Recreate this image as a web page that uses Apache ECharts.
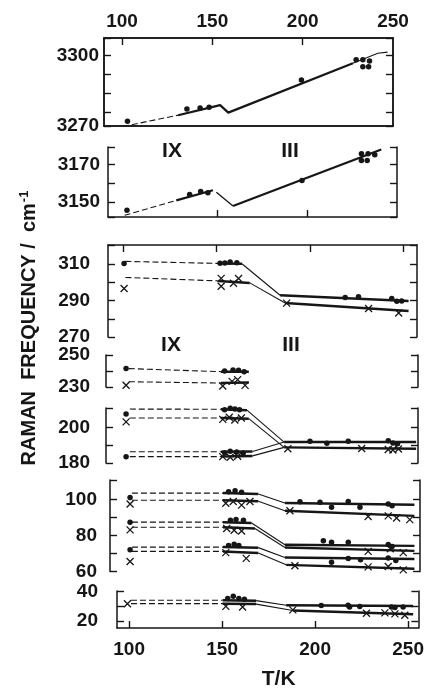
<!DOCTYPE html>
<html>
<head>
<meta charset="utf-8">
<title>Raman frequency vs T</title>
<script src="https://cdn.jsdelivr.net/npm/echarts@6/dist/echarts.min.js"></script>
<style>
    html, body { margin: 0; padding: 0; background: #fff; }
    #chart { width: 427px; height: 691px; }
</style>
</head>
<body>
<div id="chart"></div>
<script>
// T in K, frequency in cm-1. Lower panels: each "mode" is a list of knots
// [start, IX start, IX end, III start, III end] -> dashed, thick, thin, thick

// ---- top block: 3270-3300 and 3150-3170 bands
const p1Dash = [[100.5, 3269.8], [131, 3274.6]];
const p1Solid = [[131, 3274.6], [154.3, 3278.9], [158.8, 3275.7], [227.8, 3296.7]];
const p1Tail = [[227.8, 3296.7], [241.6, 3301], [247, 3301.5]];
const p1Dots = [[103, 3272], [135.9, 3277.2], [143.2, 3277.7], [148.2, 3278], [199.3, 3289.6],
    [229.6, 3298.2], [233.3, 3298.2], [237, 3297.7], [233.3, 3295.3], [236.5, 3295.3]];

const p2Dash = [[98.7, 3142.9], [127.3, 3150.9]];
const p2Solid = [[127.3, 3150.9], [147.6, 3156.3]];
const p2Drop = [[149.5, 3155.3], [158.7, 3147.9]];
const p2Rise = [[158.7, 3147.9], [240.8, 3178.2]];
const p2Dots = [[100, 3145.6], [134.7, 3154], [140.8, 3155.7], [144.8, 3155], [196.9, 3161.6],
    [229.8, 3175.9], [233.5, 3175.9], [237.2, 3175.3], [229.8, 3172.3], [233, 3172.3]];

// ---- 270-310
const p3ModeA = [[101.3, 311.5], [151, 310.4], [163.6, 310.2], [184, 292.9], [252.7, 289.8]];
const p3DotsA = [[100.6, 310.4], [151.9, 310.5], [154.5, 310.6], [157.3, 311.2], [160.9, 310.8],
    [218.8, 291.7], [225.9, 292.1], [243.7, 291.1], [246.4, 289.6], [249, 289.8]];
const p3ModeB = [[101.3, 302.7], [151, 300.8], [167.8, 299.7], [186.7, 288.7], [252.7, 284.3]];
const p3CrossB = [[100.6, 296.6], [152.5, 297.9], [152.5, 302.2], [159.1, 299.5], [161.8, 302.1],
    [187.5, 288.6], [231.3, 285.6], [247.4, 283.2]];

// ---- 230-250 (phase IX only)
const p4ModeA = [[101.5, 241.5], [151, 239.6], [166, 239.5]];
const p4DotsA = [[100, 241.6], [153, 240], [157.5, 240.6], [160.5, 240.4], [163.5, 239.6]];
const p4ModeB = [[101.5, 233.3], [151, 232.5], [166, 232.8]];
const p4CrossB = [[100, 231.1], [152, 230.6], [157, 233.5], [160, 234.6], [164, 231]];

// ---- 180-210
const p5ModeA = [[102, 210.4], [151, 210.3], [165, 209.8], [185, 191.8], [256, 191.8]];
const p5DotsA = [[100, 207.6], [153, 210], [156, 210.9], [158.5, 210.5], [161, 210], [198.9, 192.3],
    [208, 191.2], [219.5, 192.3], [241, 192.5], [243.5, 191.3], [246, 190.8]];
const p5ModeB = [[102, 205.4], [151, 205.4], [166, 205], [185, 188.8], [256, 188]];
const p5CrossB = [[100, 203.2], [152, 204.6], [155.5, 205.8], [158.5, 204.2], [162, 205.4], [187, 188],
    [226.7, 188.2], [241, 187.6], [243.5, 187.3], [246.5, 187.9]];
const p5ModeC = [[102, 183.6], [151, 183.6], [168, 184], [185, 188.8]];
const p5DotsC = [[100, 183.5], [153, 185.8], [156, 186.6], [159.5, 186.2], [163, 185.6]];
const p5ModeD = [[102, 186.3], [151, 186.3], [168, 186.5], [185, 191.8]];
const p5CrossD = [[152, 183.6], [156, 183.2], [160, 183.8]];

// ---- 60-100
const p6ModeA = [[101, 103.7], [150, 103.7], [169, 103.2], [183.3, 98.2], [253, 97.2]];
const p6DotsA = [[100, 101.3], [153, 104.5], [156.5, 105], [160, 104.2], [191.4, 98.9], [202.2, 98.6],
    [208.4, 95.8], [217.4, 99], [223.7, 95.8], [238.9, 97.6], [241, 96.6]];
const p6ModeB = [[101, 99.7], [150, 99.7], [169, 99.2], [183.3, 93.9], [253, 91]];
const p6CrossB = [[100, 97.6], [151.5, 98], [155.5, 99], [160, 97], [164.5, 99], [186, 93.9],
    [228.1, 90.7], [238.9, 91], [243.4, 89.8], [250.5, 88.9]];
const p6ModeC = [[101, 87.5], [150, 87.5], [165.4, 87], [183.3, 74.9], [253, 74.3]];
const p6DotsC = [[100, 87.5], [154, 88.5], [157, 89], [161, 88.5], [204, 77.1], [208.4, 76.3],
    [217.4, 76.3], [238.9, 75], [241, 74]];
const p6ModeD = [[101, 84.7], [150, 84.7], [167.2, 84], [183.3, 73.4], [253, 71.5]];
const p6CrossD = [[100, 83.2], [152, 84], [156, 83], [160, 82.6], [228.1, 71.2], [240, 72.7], [247, 70.5]];
const p6ModeE = [[101, 73.6], [150, 73.6], [169, 73.3], [183.3, 67.8], [253, 67]];
const p6DotsE = [[100, 72.1], [153, 74.5], [156, 75.2], [158.5, 74.5], [208.4, 65.2], [217.4, 67.2],
    [224, 66.5], [238.9, 67.5], [243, 66.2]];
const p6ModeF = [[101, 71.2], [150, 71.2], [169, 70.3], [184, 63.7], [253, 61.5]];
const p6CrossF = [[100, 65.6], [151.5, 70.5], [162.5, 67.3], [188.7, 63.2], [228.1, 62.6], [238.9, 62.8], [247, 60.9]];

// ---- 20-40
const p7ModeA = [[101, 34.3], [150.3, 34.3], [168.3, 34], [184.4, 30.8], [252.7, 30.3]];
const p7DotsA = [[153, 35.5], [156, 37], [159, 35.5], [162, 35], [203.3, 30.6], [217.7, 30.8],
    [218.5, 29.5], [224, 30], [241, 29.5], [242.9, 29.2], [247.3, 29.5]];
const p7ModeB = [[101, 31.9], [150.3, 31.9], [168.3, 31.6], [188, 27.2], [252.7, 24.5]];
const p7CrossB = [[99.1, 31.9], [152, 30], [161, 29.6], [188, 27.6], [227.6, 25.3], [237.5, 25.5],
    [242.9, 24.8], [248.2, 23.8]];

// ---- tick labels
const tempTicks = [100, 150, 200, 250];
const p1Ticks = [3270, 3276, 3284, 3292, 3300, 3307.5];
const p1Labels = [3270, 3300];
const p2Ticks = [3142, 3150, 3160, 3170, 3179.5];
const p2Labels = [3150, 3170];
const p3Ticks = [270, 280, 290, 300, 310, 320.5];
const p3Labels = [270, 290, 310];
const p4Ticks = [230, 240, 250];
const p4Labels = [230, 250];
const p5Ticks = [180, 190, 200, 211];
const p5Labels = [180, 200];
const p6Ticks = [60, 70, 80, 90, 100, 111];
const p6Labels = [60, 80, 100];
const p7Ticks = [20, 30, 40.7];
const p7Labels = [20, 40];

const INK = '#161616';
const FONT = '"Liberation Sans", Arial, sans-serif';

// layout of the seven stacked panels
const panels = [
    { top: 38, bottom: 126, left: 104, right: 393, x: [90, 250], y: [3270, 3307.5], yTicks: p1Ticks, yLabels: p1Labels, gap: 5,
      xTop: { ticks: tempTicks.slice(0, 3), labels: tempTicks }, xBottom: { ticks: [], labels: [] } },
    { top: 147, bottom: 217, left: 108, right: 397, x: [89.5, 249.5], y: [3142, 3179.5], yTicks: p2Ticks, yLabels: p2Labels, gap: 8,
      xBottom: { ticks: [150, 200], labels: [] } },
    { top: 245, bottom: 337, left: 108, right: 417, x: [92, 257.2], y: [270, 320.5], yTicks: p3Ticks, yLabels: p3Labels, gap: 18,
      xTop: { ticks: tempTicks, labels: [] } },
    { top: 355, bottom: 387, left: 106, right: 418, x: [89.2, 257], y: [230, 250], yTicks: p4Ticks, yLabels: p4Labels, gap: 16 },
    { top: 408, bottom: 463, left: 106, right: 418, x: [89.2, 257], y: [180, 211], yTicks: p5Ticks, yLabels: p5Labels, gap: 16 },
    { top: 480, bottom: 571.5, left: 110, right: 420, x: [89.2, 256], y: [60, 111], yTicks: p6Ticks, yLabels: p6Labels, gap: 13 },
    { top: 591, bottom: 636, left: 117, right: 421, x: [93.5, 255.5], y: [15, 40.7], yTicks: p7Ticks, yLabels: p7Labels, gap: 19,
      xBottom: { ticks: tempTicks, labels: tempTicks, name: 'T/K' } }
];

const labelStyle = { color: INK, fontFamily: FONT, fontSize: 19, fontWeight: 'bold' };
const plain = v => String(v);

let grids = [], xAxes = [], yAxes = [], series = [], panelX = [];

panels.forEach((p, i) => {
    grids.push({ left: p.left, top: p.top, width: p.right - p.left, height: p.bottom - p.top });

    panelX.push(xAxes.length);
    let sides = [];
    if (p.xTop) sides.push(['top', p.xTop]);
    if (p.xBottom) sides.push(['bottom', p.xBottom]);
    if (!sides.length) sides.push(['bottom', null]);

    sides.forEach(([pos, s]) => {
        xAxes.push({
            type: 'value', gridIndex: i, position: pos, min: p.x[0], max: p.x[1],
            axisLine: { show: !!s, onZero: false, lineStyle: { color: INK, width: 1.5 } },
            axisTick: { show: !!s && s.ticks.length > 0, inside: true, length: 7,
                customValues: s ? s.ticks : [], lineStyle: { color: INK, width: 1.4 } },
            axisLabel: { show: !!s && s.labels.length > 0, customValues: s ? s.labels : [],
                margin: pos === 'top' ? 7 : 12, formatter: plain, ...labelStyle },
            splitLine: { show: false },
            name: s && s.name ? s.name : '',
            nameLocation: 'middle', nameGap: 41,
            nameTextStyle: { ...labelStyle, fontSize: 21, padding: [0, 0, 0, 22] }
        });
    });

    ['left', 'right'].forEach(pos => {
        yAxes.push({
            type: 'value', gridIndex: i, position: pos, min: p.y[0], max: p.y[1],
            axisLine: { show: true, onZero: false, lineStyle: { color: INK, width: 1.5 } },
            axisTick: { show: true, inside: true, length: 7, customValues: p.yTicks,
                lineStyle: { color: INK, width: 1.4 } },
            axisLabel: { show: pos === 'left', customValues: p.yLabels, margin: p.gap, formatter: plain, ...labelStyle },
            splitLine: { show: false }
        });
    });
});

// box around the first panel
grids[0].show = true;
grids[0].borderColor = INK;
grids[0].borderWidth = 1.5;

function addLine(pi, data, width, dashed) {
    series.push({
        type: 'line', xAxisIndex: panelX[pi], yAxisIndex: 2 * pi, data: data,
        showSymbol: false, silent: true,
        lineStyle: { color: INK, width: width, type: dashed ? [6, 3] : 'solid' }
    });
}

function addMode(pi, knots) {
    let styles = [[1.1, true], [2.5, false], [1.1, false], [2.4, false]];
    for (let k = 0; k + 1 < knots.length; k++) {
        addLine(pi, knots.slice(k, k + 2), styles[k][0], styles[k][1]);
    }
}

function addDots(pi, data) {
    series.push({
        type: 'scatter', xAxisIndex: panelX[pi], yAxisIndex: 2 * pi, data: data,
        symbol: 'circle', symbolSize: 5.5, itemStyle: { color: INK, opacity: 1 }
    });
}

function addCross(pi, data) {
    series.push({
        type: 'scatter', xAxisIndex: panelX[pi], yAxisIndex: 2 * pi, data: data,
        symbol: 'path://M0,0L10,10M10,0L0,10', symbolSize: 7,
        itemStyle: { color: 'none', borderColor: INK, borderWidth: 1.3, opacity: 1 }
    });
}

// panel 1, 2
addLine(0, p1Dash, 1.1, true);
addLine(0, p1Solid, 2.2, false);
addLine(0, p1Tail, 1.1, false);
addDots(0, p1Dots);
addLine(1, p2Dash, 1.1, true);
addLine(1, p2Solid, 2.2, false);
addLine(1, p2Drop, 1.3, false);
addLine(1, p2Rise, 2.2, false);
addDots(1, p2Dots);

// lower panels
addMode(2, p3ModeA); addDots(2, p3DotsA);
addMode(2, p3ModeB); addCross(2, p3CrossB);
addMode(3, p4ModeA); addDots(3, p4DotsA);
addMode(3, p4ModeB); addCross(3, p4CrossB);
addMode(4, p5ModeA); addDots(4, p5DotsA);
addMode(4, p5ModeB); addCross(4, p5CrossB);
addMode(4, p5ModeC); addDots(4, p5DotsC);
addMode(4, p5ModeD); addCross(4, p5CrossD);
addMode(5, p6ModeA); addDots(5, p6DotsA);
addMode(5, p6ModeB); addCross(5, p6CrossB);
addMode(5, p6ModeC); addDots(5, p6DotsC);
addMode(5, p6ModeD); addCross(5, p6CrossD);
addMode(5, p6ModeE); addDots(5, p6DotsE);
addMode(5, p6ModeF); addCross(5, p6CrossF);
addMode(6, p7ModeA); addDots(6, p7DotsA);
addMode(6, p7ModeB); addCross(6, p7CrossB);

const phaseText = { fill: INK, fontFamily: FONT, fontSize: 21, fontWeight: 'bold', align: 'center', verticalAlign: 'middle' };

let myChart = echarts.init(document.getElementById('chart'), null, { renderer: 'canvas' });
myChart.setOption({
    animation: false,
    backgroundColor: '#ffffff',
    textStyle: { fontFamily: FONT },
    grid: grids,
    xAxis: xAxes,
    yAxis: yAxes,
    series: series,
    graphic: [
        { type: 'text', x: 172, y: 151, style: { text: 'IX', ...phaseText } },
        { type: 'text', x: 290, y: 151, style: { text: 'III', ...phaseText } },
        { type: 'text', x: 171, y: 345, style: { text: 'IX', ...phaseText } },
        { type: 'text', x: 291, y: 345, style: { text: 'III', ...phaseText } },
        {
            type: 'text', x: 29, y: 328, rotation: Math.PI / 2,
            style: {
                text: '{a|RAMAN  FREQUENCY /  cm}{b|-1}',
                align: 'center', verticalAlign: 'middle',
                rich: {
                    a: { fill: INK, fontFamily: FONT, fontSize: 20, fontWeight: 'bold' },
                    b: { fill: INK, fontFamily: FONT, fontSize: 13, fontWeight: 'bold', verticalAlign: 'top', padding: [0, 0, 10, 1] }
                }
            }
        }
    ]
});
</script>
</body>
</html>
